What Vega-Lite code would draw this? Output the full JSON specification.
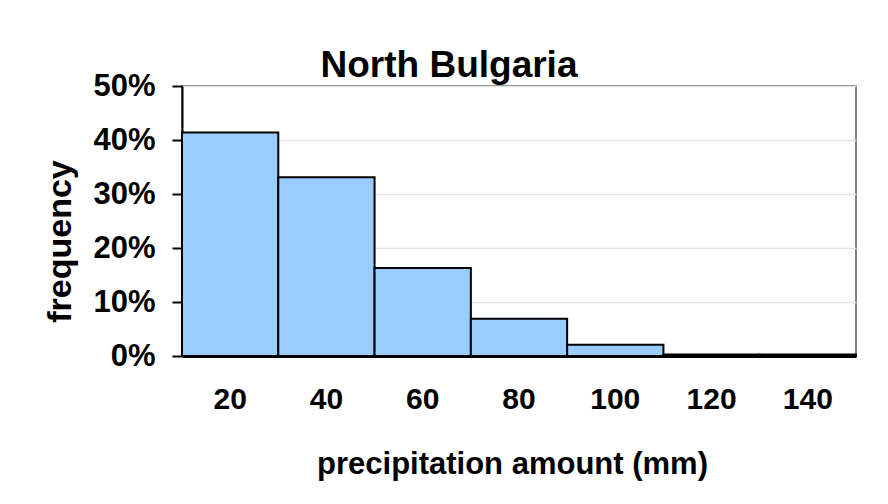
{
  "$schema": "https://vega.github.io/schema/vega-lite/v6.json",
  "width": 674,
  "height": 270,
  "autosize": "none",
  "padding": {"left": 182, "top": 86, "right": 32, "bottom": 148},
  "background": "white",
  "title": {
    "text": "North Bulgaria",
    "font": "Liberation Sans",
    "fontSize": 37,
    "fontWeight": "bold",
    "color": "black",
    "anchor": "middle",
    "frame": "group",
    "baseline": "alphabetic",
    "dx": -70,
    "dy": 48,
    "offset": 4
  },
  "data": {
    "values": [
      {"amount": 20, "frequency": 0.414},
      {"amount": 40, "frequency": 0.331},
      {"amount": 60, "frequency": 0.163},
      {"amount": 80, "frequency": 0.069},
      {"amount": 100, "frequency": 0.021},
      {"amount": 120, "frequency": 0.003},
      {"amount": 140, "frequency": 0.003}
    ]
  },
  "mark": {"type": "bar", "fill": "#99ccff", "stroke": "black", "strokeWidth": 2},
  "encoding": {
    "x": {
      "field": "amount",
      "type": "ordinal",
      "sort": "ascending",
      "scale": {"paddingInner": 0, "paddingOuter": 0},
      "axis": {
        "title": "precipitation amount (mm)",
        "labelAngle": 0,
        "ticks": false,
        "tickSize": 0,
        "labelPadding": 28,
        "labelBaseline": "top",
        "labelFontSize": 30,
        "labelFont": "Liberation Sans",
        "labelFontWeight": "bold",
        "labelColor": "black",
        "domainColor": "black",
        "domainWidth": 3,
        "zindex": 1,
        "titleFont": "Liberation Sans",
        "titleFontSize": 31,
        "titleFontWeight": "bold",
        "titleColor": "black",
        "titleX": 330,
        "titleY": 117,
        "titleAlign": "center",
        "titleBaseline": "alphabetic"
      }
    },
    "y": {
      "field": "frequency",
      "type": "quantitative",
      "scale": {"domain": [0, 0.5], "nice": false},
      "axis": {
        "title": "frequency",
        "format": ".0%",
        "values": [0, 0.1, 0.2, 0.3, 0.4, 0.5],
        "grid": true,
        "gridColor": "#e4e4e4",
        "gridWidth": 1.5,
        "tickSize": 10,
        "tickColor": "black",
        "tickWidth": 2,
        "labelPadding": 17,
        "labelFontSize": 31,
        "labelFont": "Liberation Sans",
        "labelFontWeight": "bold",
        "labelColor": "black",
        "domainColor": "black",
        "domainWidth": 2,
        "titleFont": "Liberation Sans",
        "titleFontSize": 34,
        "titleFontWeight": "bold",
        "titleColor": "black",
        "titleAngle": 270,
        "titleX": -112,
        "titleY": 155,
        "titleAlign": "center",
        "titleBaseline": "alphabetic"
      }
    }
  },
  "config": {
    "view": {"stroke": "#808080", "strokeWidth": 2}
  }
}
